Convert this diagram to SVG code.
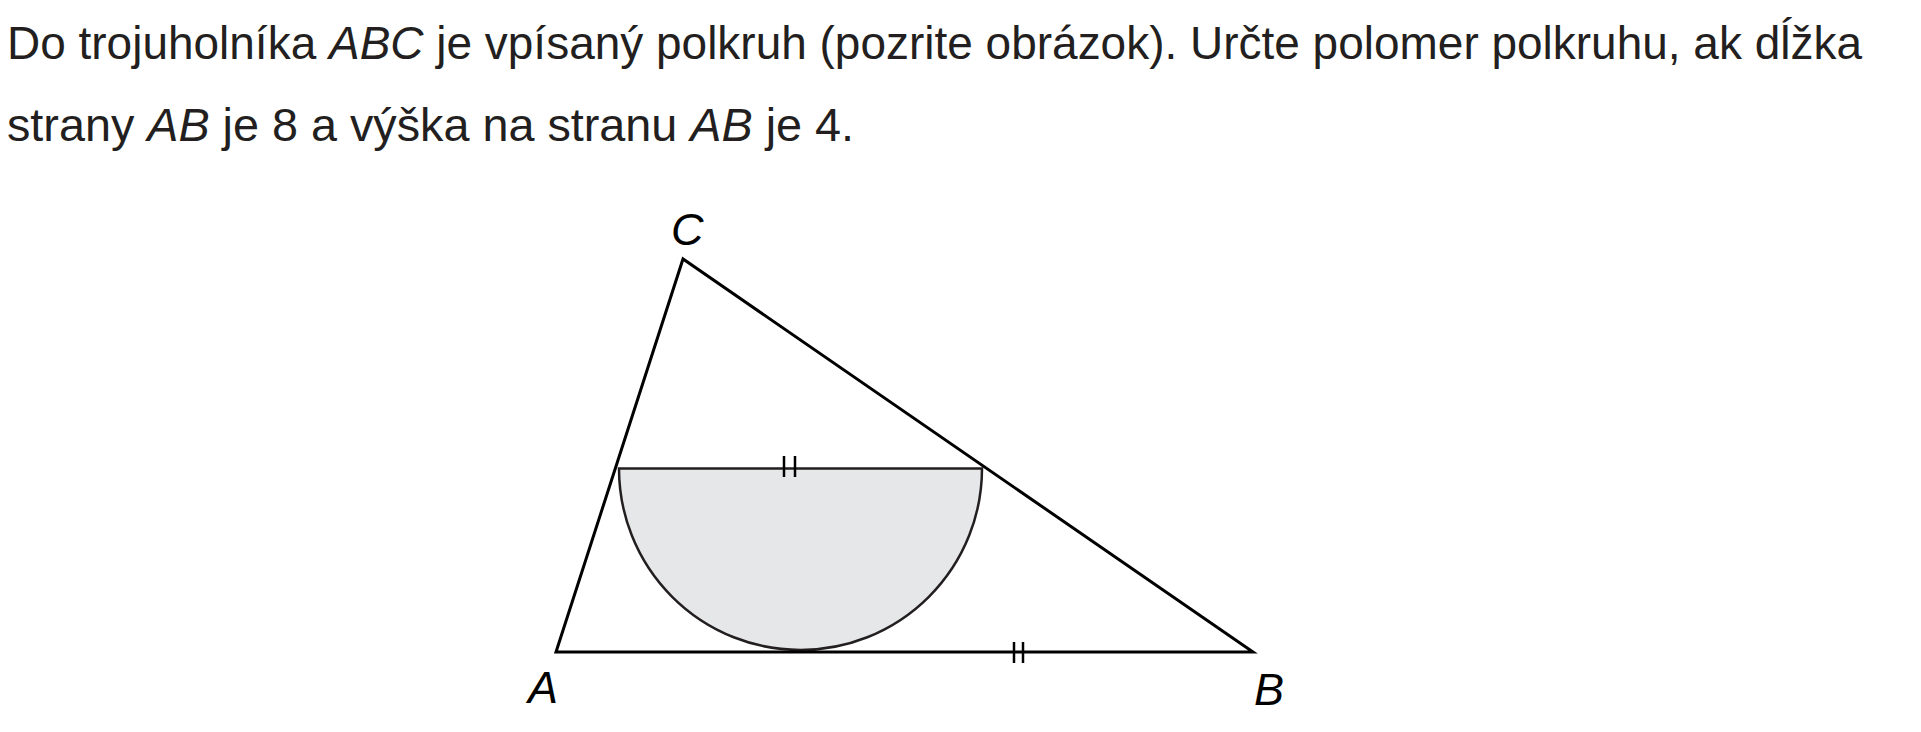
<svg xmlns="http://www.w3.org/2000/svg" width="1921" height="732" viewBox="0 0 1921 732">
<style>
.t{font-family:"Liberation Sans",Arial,sans-serif;font-size:46px;fill:#231f20}
.i{font-style:italic}
.lbl{font-family:"Liberation Sans",Arial,sans-serif;font-size:45px;font-style:italic;fill:#000}
.side{stroke:#000;stroke-width:3;fill:none;stroke-linejoin:miter}
.semi{fill:#e6e7e8;stroke:#231f20;stroke-width:2.5}
.tick{stroke:#000;stroke-width:2.5}
</style>
<rect width="1921" height="732" fill="#fff"/>
<g id="text">
<text class="t" x="7" y="59" textLength="1855" lengthAdjust="spacingAndGlyphs">Do trojuholníka <tspan class="i">ABC</tspan> je vpísaný polkruh (pozrite obrázok). Určte polomer polkruhu, ak dĺžka</text>
<text class="t" x="7" y="141" textLength="847" lengthAdjust="spacingAndGlyphs">strany <tspan class="i">AB</tspan> je 8 a výška na stranu <tspan class="i">AB</tspan> je 4.</text>
</g>
<g id="semicircle">
<path class="semi" d="M619 468.5 A181.5 181.5 0 0 0 982 468.5 Z"/>
</g>
<g id="triangle">
<polygon class="side" points="556,652 1253,652 683,259"/>
</g>
<g id="connectors">
<line class="tick" x1="784" y1="456" x2="784" y2="477"/>
<line class="tick" x1="795" y1="456" x2="795" y2="477"/>
<line class="tick" x1="1014" y1="642" x2="1014" y2="663"/>
<line class="tick" x1="1023" y1="642" x2="1023" y2="663"/>
</g>
<g id="label-A"><text class="lbl" x="528" y="703">A</text></g>
<g id="label-B"><text class="lbl" x="1254" y="705">B</text></g>
<g id="label-C"><text class="lbl" x="671" y="245">C</text></g>
</svg>
